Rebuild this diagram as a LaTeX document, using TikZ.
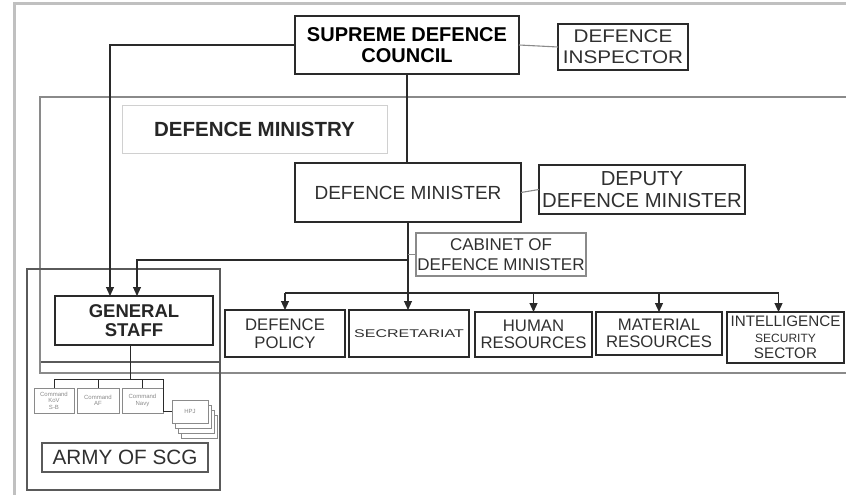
\documentclass[tikz,border=0pt]{standalone}
\usepackage{fontspec}
\setmainfont{Liberation Sans}
\newfontfamily\widefont[FakeStretch=1.13]{Liberation Sans}
\usetikzlibrary{arrows.meta,calc,backgrounds}
\definecolor{txt}{HTML}{303030}
\definecolor{ln}{HTML}{2A2A2A}
\definecolor{midgray}{HTML}{5A5A5A}
\definecolor{lgray}{HTML}{8A8A8A}
\definecolor{pale}{HTML}{D0D0D0}
\begin{document}
\begin{tikzpicture}[x=1pt,y=-1pt,
  box/.style={draw=ln,line width=1.6pt,outer sep=0pt,inner sep=0pt,align=center,text=txt},
  conn/.style={draw=ln,line width=1.1pt},
  soft/.style={draw=lgray,line width=1.1pt},
  arr/.style={conn,-{Triangle[length=9pt,width=8pt]}},
  cmd/.style={draw=lgray,line width=1pt,outer sep=0pt,inner sep=0pt,align=center,text=lgray,
    font=\fontsize{6}{6.5}\selectfont}
]
\useasboundingbox (0,0) rectangle (846,495);
% outer gray frame
\draw[pale!80!gray,line width=3pt] (14,497) -- (14,4) -- (848,4);
% ministry frame
\draw[midgray,line width=1.2pt] (40,362) -- (220,362);
\draw[lgray,line width=1.4pt] (850,97) -- (40,97) -- (40,373) -- (850,373);
% army frame
\draw[midgray,line width=1.2pt] (27,490) -- (27,269) -- (220,269) -- (220,490) -- cycle;

% nodes
\node[box,line width=2pt,text=black,minimum width=224,minimum height=58,
  font=\fontsize{20}{21}\selectfont\bfseries] (sdc) at (407,45) {SUPREME DEFENCE\\COUNCIL};
\node[box,minimum width=130,minimum height=46,
  font=\widefont\fontsize{18.3}{21}\selectfont] (insp) at (623,47) {DEFENCE\\INSPECTOR};
\node[draw=pale,line width=1pt,outer sep=0pt,minimum width=265,minimum height=48,
  text=black!85,font=\fontsize{20.5}{21}\selectfont\bfseries] (dml) at (254.5,129) {DEFENCE MINISTRY};
\node[box,minimum width=226,minimum height=59,
  font=\fontsize{19}{21}\selectfont] (dm) at (408,192.5) {DEFENCE MINISTER};
\node[box,minimum width=206,minimum height=49,
  font=\fontsize{20.3}{21.5}\selectfont] (dep) at (642,189.5) {DEPUTY\\DEFENCE MINISTER};
\node[box,draw=lgray,minimum width=170,minimum height=43,
  font=\fontsize{17}{19.5}\selectfont] (cab) at (501,254.5) {CABINET OF\\DEFENCE MINISTER};
\node[box,minimum width=158,minimum height=49,text=black!85,
  font=\fontsize{18.5}{19}\selectfont\bfseries] (gs) at (134,320.5) {GENERAL\\STAFF};
\node[box,minimum width=120,minimum height=47,
  font=\fontsize{16.7}{17.5}\selectfont] (pol) at (285,333.5) {DEFENCE\\POLICY};
\node[box,minimum width=120,minimum height=47,
  font=\fontsize{16}{16}\selectfont] (sec) at (409,333.5) {\scalebox{1}[0.7]{SECRETARIAT}};
\node[box,minimum width=117,minimum height=45,
  font=\fontsize{16.7}{17.5}\selectfont] (hum) at (533.5,334.5) {HUMAN\\RESOURCES};
\node[box,minimum width=126,minimum height=43,
  font=\fontsize{16.7}{17.5}\selectfont] (mat) at (659,333.5) {MATERIAL\\RESOURCES};
\node[box,minimum width=117,minimum height=51,
  font=\fontsize{15.2}{16}\selectfont] (intel) at (785.5,337.5) {INTELLIGENCE\\{\fontsize{12}{14}\selectfont SECURITY}\\SECTOR};
\node[cmd,minimum width=40,minimum height=25] (c1) at (54,400.5) {Command\\KoV\\S-B};
\node[cmd,minimum width=42,minimum height=25] (c2) at (98,400.5) {Command\\AF};
\node[cmd,minimum width=41,minimum height=25] (c3) at (142.5,400.5) {Command\\Navy};
\node[cmd,fill=white,minimum width=36,minimum height=23] (hpj) at (190,411.5) {HPJ};
\begin{scope}[on background layer]
  \foreach \i in {3,2,1}
    \draw[lgray,line width=1pt,fill=white]
      ([shift={(3*\i,5*\i)}]hpj.north west) rectangle ([shift={(3*\i,5*\i)}]hpj.south east);
\end{scope}
\node[box,draw=midgray,line width=1.1pt,minimum width=166,minimum height=29,
  font=\fontsize{20.7}{21}\selectfont] (army) at (125,457.5) {ARMY OF SCG};

% connectors
\draw[soft] (sdc.east) -- (insp.west);
\draw[arr] (sdc.west) -| ([xshift=-24pt]gs.north);
\draw[conn] (sdc.south) -- (sdc.south |- dm.north);
\draw[soft] (dm.east) -- (dep.west);
\draw[arr] (dm.south) -- (dm.south |- sec.north);
\draw[soft] (dm.south |- cab.west) -- (cab.west);
\coordinate (cb) at ($(dm.south)+(0,38)$);
\draw[arr] (cb) -| ([xshift=3pt]gs.north);
\coordinate (bus) at (0,293);
\draw[conn] (pol.north |- bus) -- ([xshift=-7pt]intel.north |- bus);
\draw[arr] (pol.north |- bus) -- (pol.north);
\draw[arr] (hum.north |- bus) -- (hum.north);
\draw[arr] (mat.north |- bus) -- (mat.north);
\draw[arr] ([xshift=-7pt]intel.north |- bus) -- ([xshift=-7pt]intel.north);
% general staff to commands
\coordinate (cbus) at ($(gs.south)+(-4,34)$);
\draw[conn,line width=0.9pt] ([xshift=-4pt]gs.south) -- (cbus);
\draw[conn,line width=0.9pt] (c1.north |- cbus) -- (cbus -| c3.north east);
\draw[conn,line width=0.9pt] (c1.north |- cbus) -- (c1.north);
\draw[conn,line width=0.9pt] (c2.north |- cbus) -- (c2.north);
\draw[conn,line width=0.9pt] (c3.north |- cbus) -- (c3.north);
\draw[conn,line width=0.9pt] (cbus -| c3.north east) |- (hpj.west);
\end{tikzpicture}
\end{document}
